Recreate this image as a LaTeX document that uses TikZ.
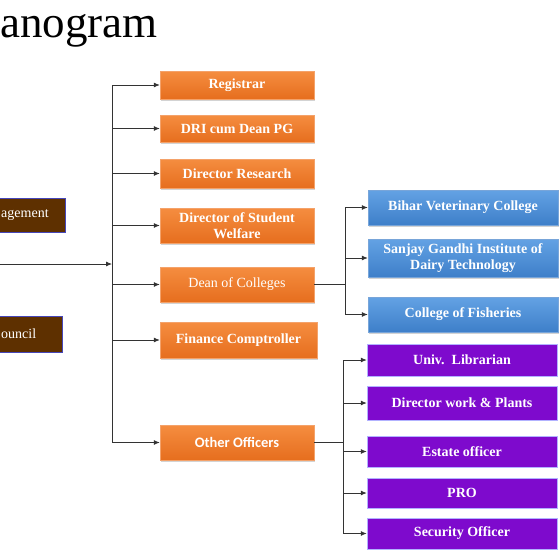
\documentclass[tikz,border=0pt]{standalone}
\usepackage{fontspec}
\setmainfont{Liberation Serif}
\newfontfamily\calibfont{Carlito}
\usetikzlibrary{shadows,arrows.meta}
\definecolor{orgtop}{HTML}{F58D40}
\definecolor{orgbot}{HTML}{E66E1E}
\definecolor{orgedge}{HTML}{F4A26A}
\definecolor{bluetop}{HTML}{63A2E4}
\definecolor{bluebot}{HTML}{3E7FC9}
\definecolor{purplefill}{HTML}{7E0ACD}
\definecolor{brownfill}{HTML}{5E3000}
\definecolor{lineclr}{HTML}{333333}

\begin{document}
\begin{tikzpicture}[x=1pt,y=-1pt]
                        \tikzstyle{box}=[rectangle, text=white, align=center, inner sep=2pt, font=\bfseries\fontsize{14}{16}\selectfont]
                        \tikzstyle{orange box}=[box, top color=orgtop, bottom color=orgbot, draw=orgedge, line width=0.4pt, minimum width=154pt, drop shadow={opacity=0.35, shadow xshift=1.2pt, shadow yshift=-1.5pt}]
                        \tikzstyle{blue box}=[box, top color=bluetop, bottom color=bluebot, draw=bluebot!70!white, line width=0.4pt, minimum width=190pt, drop shadow={opacity=0.35, shadow xshift=1.2pt, shadow yshift=-1.5pt}]
                        \tikzstyle{purple box}=[box, fill=purplefill, draw=blue!30!white, line width=0.5pt, minimum width=190pt]
                        \tikzstyle{brown box}=[box, fill=brownfill, draw=blue!45!gray, line width=0.5pt, font=\fontsize{14}{16}\selectfont, align=left, inner xsep=4pt]
                        \tikzstyle{link}=[draw=lineclr, line width=0.8pt]
                        \tikzstyle{arr}=[link, -{Latex[length=6pt,width=5pt]}]
                        \clip (0,0) rectangle (560,560);
                        \node[anchor=base west, inner sep=0, font=\fontsize{45}{45}\selectfont] (title) at (0,37) {anogram};
                        \node[brown box, anchor=west, text width=60pt, minimum height=34pt] (bom) at (-3,215) {agement};
                        \node[brown box, anchor=west, text width=57pt, minimum height=36pt] (ac) at (-3,334) {ouncil};
                        \node[orange box, minimum height=28pt] (reg) at (237,85) {Registrar};
                        \node[orange box, minimum height=27pt] (dri) at (237,128.5) {DRI cum Dean PG};
                        \node[orange box, minimum height=29pt] (dres) at (237,173.5) {Director Research};
                        \node[orange box, minimum height=35pt] (dsw) at (237,225.5) {Director of Student\\Welfare};
                        \node[orange box, minimum height=35pt, font=\fontsize{14}{16}\selectfont] (dean) at (237,284.5) {Dean of Colleges};
                        \node[orange box, minimum height=36pt, minimum width=157pt] (fin) at (238.5,340) {Finance Comptroller};
                        \node[orange box, minimum height=35pt, font=\calibfont\bfseries\fontsize{14.5}{16}\selectfont] (oth) at (237,442.5) {Other Officers};
                        \node[blue box, minimum height=35pt] (bvc) at (463,207.5) {Bihar Veterinary College};
                        \node[blue box, minimum height=38pt] (sgi) at (463,258) {Sanjay Gandhi Institute of\\Dairy Technology};
                        \node[blue box, minimum height=35pt] (cof) at (463,314.5) {College of Fisheries};
                        \node[purple box, minimum height=32pt] (lib) at (462,360) {Univ.\ \ Librarian};
                        \node[purple box, minimum height=34pt] (dwp) at (462,403) {Director work \& Plants};
                        \node[purple box, minimum height=31pt] (est) at (462,451.5) {Estate officer};
                        \node[purple box, minimum height=30pt] (pro) at (462,493) {PRO};
                        \node[purple box, minimum height=31pt] (sec) at (462,533.5) {Security Officer};
                        \coordinate (src) at (0,264);
                        \coordinate (trunk) at (112,0);
                        \coordinate (ctrunk) at (345,0);
                        \coordinate (otrunk) at (343,0);
                        \draw[link] (trunk |- reg.west) -- (trunk |- oth.west);
                        \draw[arr] (src) -- (src -| trunk);
                        \foreach \n in {reg,dri,dres,dsw,dean,fin,oth}
                            \draw[arr] (trunk |- \n.west) -- (\n.west);
                        \draw[link] (dean.east) -- (dean.east -| ctrunk);
                        \draw[link] (ctrunk |- bvc.west) -- (ctrunk |- cof.west);
                        \foreach \n in {bvc,sgi,cof}
                            \draw[arr] (ctrunk |- \n.west) -- (\n.west);
                        \draw[link] (oth.east) -- (oth.east -| otrunk);
                        \draw[link] (otrunk |- lib.west) -- (otrunk |- sec.west);
                        \foreach \n in {lib,dwp,est,pro,sec}
                            \draw[arr] (otrunk |- \n.west) -- (\n.west);
\end{tikzpicture}
\end{document}
